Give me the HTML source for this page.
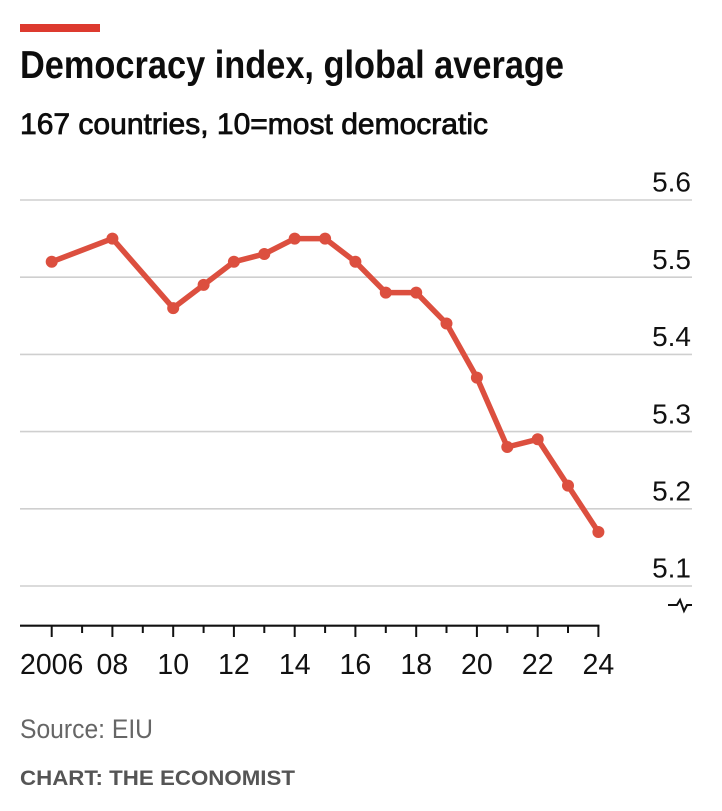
<!DOCTYPE html>
<html>
<head>
<meta charset="utf-8">
<style>
  html, body { margin: 0; padding: 0; background: #ffffff; }
  svg { display: block; }
  text { font-family: "Liberation Sans", sans-serif; }
</style>
</head>
<body>
<svg width="722" height="811" viewBox="0 0 722 811" xmlns="http://www.w3.org/2000/svg">
  <rect x="0" y="0" width="722" height="811" fill="#ffffff"/>
  <!-- red bar -->
  <rect x="20" y="24" width="80" height="8" fill="#dd3a2f"/>
  <!-- title -->
  <text x="20" y="78" font-size="39" font-weight="bold" fill="#0d0d0d" textLength="544" lengthAdjust="spacingAndGlyphs">Democracy index, global average</text>
  <!-- subtitle -->
  <text x="20" y="134" font-size="30" fill="#0d0d0d" stroke="#0d0d0d" stroke-width="0.8" textLength="468" lengthAdjust="spacingAndGlyphs">167 countries, 10=most democratic</text>

  <!-- gridlines -->
  <g stroke="#cfcfcf" stroke-width="1.6">
    <line x1="20" y1="200" x2="692" y2="200"/>
    <line x1="20" y1="277.2" x2="692" y2="277.2"/>
    <line x1="20" y1="354.4" x2="692" y2="354.4"/>
    <line x1="20" y1="431.6" x2="692" y2="431.6"/>
    <line x1="20" y1="508.8" x2="692" y2="508.8"/>
    <line x1="20" y1="586" x2="692" y2="586"/>
  </g>
  <!-- y labels -->
  <g font-size="28" fill="#111" text-anchor="end">
    <text x="691" y="191.7">5.6</text>
    <text x="691" y="268.9">5.5</text>
    <text x="691" y="346.1">5.4</text>
    <text x="691" y="423.3">5.3</text>
    <text x="691" y="500.5">5.2</text>
    <text x="691" y="577.7">5.1</text>
  </g>
  <!-- break symbol -->
  <path d="M668 605 L677 605 L680 600 L684 611 L687 605 L692 605" fill="none" stroke="#111" stroke-width="2"/>

  <!-- x axis -->
  <line x1="20" y1="625.7" x2="599.4" y2="625.7" stroke="#111" stroke-width="2.2"/>
  <g stroke="#111" stroke-width="2">
    <line x1="51.7" y1="625" x2="51.7" y2="637"/>
    <line x1="82.1" y1="625" x2="82.1" y2="633"/>
    <line x1="112.4" y1="625" x2="112.4" y2="637"/>
    <line x1="142.8" y1="625" x2="142.8" y2="633"/>
    <line x1="173.2" y1="625" x2="173.2" y2="637"/>
    <line x1="203.6" y1="625" x2="203.6" y2="633"/>
    <line x1="233.9" y1="625" x2="233.9" y2="637"/>
    <line x1="264.3" y1="625" x2="264.3" y2="633"/>
    <line x1="294.7" y1="625" x2="294.7" y2="637"/>
    <line x1="325.1" y1="625" x2="325.1" y2="633"/>
    <line x1="355.4" y1="625" x2="355.4" y2="637"/>
    <line x1="385.8" y1="625" x2="385.8" y2="633"/>
    <line x1="416.2" y1="625" x2="416.2" y2="637"/>
    <line x1="446.5" y1="625" x2="446.5" y2="633"/>
    <line x1="476.9" y1="625" x2="476.9" y2="637"/>
    <line x1="507.3" y1="625" x2="507.3" y2="633"/>
    <line x1="537.7" y1="625" x2="537.7" y2="637"/>
    <line x1="568.0" y1="625" x2="568.0" y2="633"/>
    <line x1="598.4" y1="625" x2="598.4" y2="637"/>
  </g>
  <g font-size="28.5" fill="#111" text-anchor="middle">
    <text x="51.7" y="674">2006</text>
    <text x="112.4" y="674">08</text>
    <text x="173.2" y="674">10</text>
    <text x="233.9" y="674">12</text>
    <text x="294.7" y="674">14</text>
    <text x="355.4" y="674">16</text>
    <text x="416.2" y="674">18</text>
    <text x="476.9" y="674">20</text>
    <text x="537.7" y="674">22</text>
    <text x="598.4" y="674">24</text>
  </g>

  <!-- data line -->
  <polyline fill="none" stroke="#dc4f3f" stroke-width="5.5" stroke-linejoin="round" stroke-linecap="round"
    points="51.7,261.8 112.4,238.6 173.2,308.1 203.6,284.9 233.9,261.8 264.3,254.0 294.7,238.6 325.1,238.6 355.4,261.8 385.8,292.6 416.2,292.6 446.5,323.5 476.9,377.6 507.3,447.0 537.7,439.3 568.0,485.6 598.4,532.0"/>
  <g fill="#dc4f3f">
    <circle cx="51.7" cy="261.8" r="6"/>
    <circle cx="112.4" cy="238.6" r="6"/>
    <circle cx="173.2" cy="308.1" r="6"/>
    <circle cx="203.6" cy="284.9" r="6"/>
    <circle cx="233.9" cy="261.8" r="6"/>
    <circle cx="264.3" cy="254.0" r="6"/>
    <circle cx="294.7" cy="238.6" r="6"/>
    <circle cx="325.1" cy="238.6" r="6"/>
    <circle cx="355.4" cy="261.8" r="6"/>
    <circle cx="385.8" cy="292.6" r="6"/>
    <circle cx="416.2" cy="292.6" r="6"/>
    <circle cx="446.5" cy="323.5" r="6"/>
    <circle cx="476.9" cy="377.6" r="6"/>
    <circle cx="507.3" cy="447.0" r="6"/>
    <circle cx="537.7" cy="439.3" r="6"/>
    <circle cx="568.0" cy="485.6" r="6"/>
    <circle cx="598.4" cy="532.0" r="6"/>
  </g>

  <!-- footer -->
  <text x="20" y="738" font-size="26.5" fill="#666666" textLength="133" lengthAdjust="spacingAndGlyphs">Source: EIU</text>
  <text x="20" y="785" font-size="21" font-weight="bold" fill="#555555" textLength="275" lengthAdjust="spacingAndGlyphs">CHART: THE ECONOMIST</text>
</svg>
</body>
</html>
